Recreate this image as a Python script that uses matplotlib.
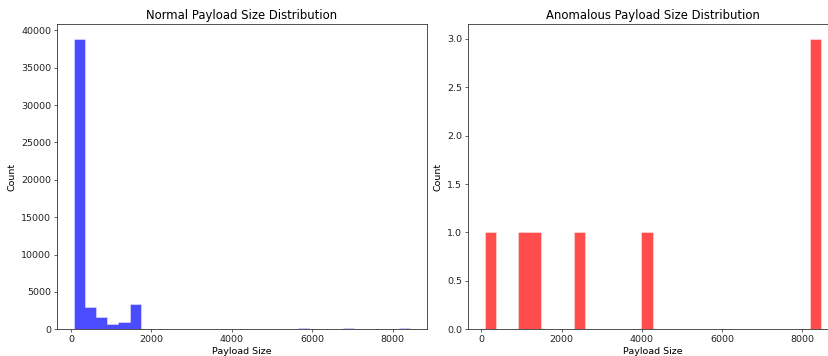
import numpy as np
import matplotlib
matplotlib.use("Agg")
import matplotlib.pyplot as plt

# Histogram bin ranges (30 equal-width bins each)
n_bins = 30
normal_range = (62, 8429)
anomalous_range = (80, 8469)

# Counts per bin
normal_counts = [38870, 2945, 1606, 750, 977, 3350, 0, 0, 0, 0,
                 0, 0, 0, 0, 0, 0, 0, 0, 0, 0,
                 130, 0, 0, 0, 130, 0, 0, 0, 0, 130]
anomalous_counts = [1, 0, 0, 1, 1, 0, 0, 0, 1, 0,
                    0, 0, 0, 0, 1, 0, 0, 0, 0, 0,
                    0, 0, 0, 0, 0, 0, 0, 0, 0, 3]

titles = ["Normal Payload Size Distribution", "Anomalous Payload Size Distribution"]
xlabel = "Payload Size"
ylabel = "Count"

plt.rcParams.update({
    "font.family": "DejaVu Sans",
    "xtick.labelsize": 6.8,
    "ytick.labelsize": 6.8,
    "axes.labelsize": 6.8,
    "axes.titlesize": 8.4,
    "axes.linewidth": 0.6,
    "xtick.major.width": 0.5,
    "ytick.major.width": 0.5,
    "xtick.major.size": 2.0,
    "ytick.major.size": 2.0,
    "xtick.major.pad": 2.0,
    "ytick.major.pad": 2.0,
    "axes.edgecolor": "#333333",
    "xtick.color": "#222222",
    "ytick.color": "#222222",
})

fig = plt.figure(figsize=(8.29, 3.56), dpi=100)
W, H = 829, 356
ax1 = fig.add_axes([56.7 / W, 1 - 329.3 / H, 370 / W, 305 / H])
ax2 = fig.add_axes([467.7 / W, 1 - 329.3 / H, 370 / W, 305 / H])


def draw(ax, rng, counts, color, title):
    edges = np.linspace(rng[0], rng[1], n_bins + 1)
    centers = (edges[:-1] + edges[1:]) / 2
    ax.hist(centers, bins=edges, weights=counts, color=color, alpha=0.7,
            histtype="stepfilled", edgecolor=(1, 1, 1, 0.35), linewidth=0.4)
    ax.set_title(title, pad=4)
    ax.set_xlabel(xlabel, labelpad=2)
    ax.set_ylabel(ylabel, labelpad=3)
    ax.set_xticks([0, 2000, 4000, 6000, 8000])


draw(ax1, normal_range, normal_counts, "blue", titles[0])
draw(ax2, anomalous_range, anomalous_counts, "red", titles[1])

fig.savefig("out.png", dpi=100)
